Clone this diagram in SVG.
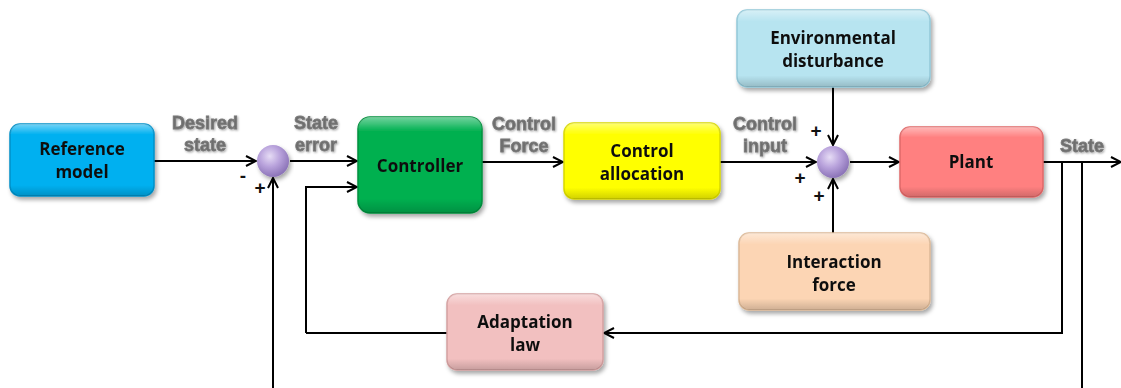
<svg xmlns="http://www.w3.org/2000/svg" width="1121" height="388" viewBox="0 0 1121 388">
<style>
.box{stroke-width:1.5}
.t{font-family:"Open Sans","Liberation Sans",sans-serif;font-weight:bold;font-size:17px;fill:#111;text-anchor:middle}
.lbl{font-family:"Liberation Sans",Arial,sans-serif;font-weight:bold;font-size:18px;fill:#6e6e6e;stroke:#7a7a7a;stroke-width:0.8;text-anchor:middle;filter:url(#soft)}
.sign{font-family:"Liberation Sans",Arial,sans-serif;font-weight:bold;font-size:19px;fill:#111;text-anchor:middle}
.ln{fill:none;stroke:#000;stroke-width:2}
.arr{marker-end:url(#ah)}
</style>
<defs>
<marker id="ah" viewBox="0 0 12 12" refX="11" refY="6" markerWidth="12" markerHeight="12" markerUnits="userSpaceOnUse" orient="auto">
<path d="M1,1 L11,6 L1,11" fill="none" stroke="#000" stroke-width="2"/>
</marker>
<filter id="sh" x="-10%" y="-10%" width="125%" height="130%">
<feDropShadow dx="2" dy="3" stdDeviation="2" flood-color="#000" flood-opacity="0.35"/>
</filter>
<filter id="soft" x="-10%" y="-20%" width="120%" height="150%">
<feGaussianBlur in="SourceAlpha" stdDeviation="1.2" result="b"/>
<feOffset in="b" dx="1" dy="1" result="o"/>
<feFlood flood-color="#000" flood-opacity="0.35"/>
<feComposite in2="o" operator="in" result="s"/>
<feGaussianBlur in="SourceGraphic" stdDeviation="0.35" result="g"/>
<feMerge><feMergeNode in="s"/><feMergeNode in="g"/></feMerge>
</filter>
<linearGradient id="gl" x1="0" y1="0" x2="0" y2="1">
<stop offset="0" stop-color="#fff" stop-opacity="0.45"/>
<stop offset="0.15" stop-color="#fff" stop-opacity="0"/>
<stop offset="0.85" stop-color="#000" stop-opacity="0"/>
<stop offset="1" stop-color="#000" stop-opacity="0.18"/>
</linearGradient>
<radialGradient id="sph" cx="0.4" cy="0.35" r="0.65">
<stop offset="0" stop-color="#e6dcf5"/>
<stop offset="0.5" stop-color="#b9a3dc"/>
<stop offset="1" stop-color="#8c74b8"/>
</radialGradient>
</defs>

<g id="connectors">
<line class="ln arr" x1="154" y1="161" x2="256" y2="161"/>
<line class="ln arr" x1="290" y1="161" x2="357" y2="161"/>
<polyline class="ln arr" points="306,333 306,187 357,187"/>
<line class="ln arr" x1="273" y1="388" x2="273" y2="178"/>
<line class="ln arr" x1="482" y1="162" x2="563" y2="162"/>
<line class="ln arr" x1="720" y1="162" x2="816" y2="162"/>
<line class="ln arr" x1="833" y1="87" x2="833" y2="145"/>
<line class="ln arr" x1="833" y1="233" x2="833" y2="179"/>
<line class="ln arr" x1="850" y1="162" x2="899" y2="162"/>
<line class="ln arr" x1="1043" y1="162" x2="1121" y2="162"/>
<polyline class="ln arr" points="1062,162 1062,333 604,333"/>
<line class="ln" x1="447" y1="333" x2="306" y2="333"/>
<line class="ln" x1="1082" y1="162" x2="1082" y2="388"/>
</g>

<g id="labels">
<text class="lbl" x="205" y="129">Desired</text>
<text class="lbl" x="205" y="151">state</text>
<text class="lbl" x="316" y="129">State</text>
<text class="lbl" x="316" y="151">error</text>
<text class="lbl" x="524" y="130">Control</text>
<text class="lbl" x="524" y="152">Force</text>
<text class="lbl" x="765" y="130">Control</text>
<text class="lbl" x="765" y="152">input</text>
<text class="lbl" x="1082" y="152">State</text>
<text class="sign" x="243" y="182">-</text>
<text class="sign" x="260" y="194">+</text>
<text class="sign" x="816" y="137">+</text>
<text class="sign" x="800" y="184">+</text>
<text class="sign" x="819" y="202">+</text>
</g>

<g id="sum1">
<circle cx="273" cy="161" r="16" fill="url(#sph)" filter="url(#sh)"/>
</g>
<g id="sum2">
<circle cx="833" cy="162" r="16" fill="url(#sph)" filter="url(#sh)"/>
</g>

<g id="reference-model" filter="url(#sh)">
<rect class="box" x="10" y="124" width="144" height="72" rx="10" fill="#00b0f0" stroke="#0090c8"/>
<rect x="10" y="124" width="144" height="72" rx="10" fill="url(#gl)"/>
<text class="t" x="82" y="155">Reference</text>
<text class="t" x="82" y="178">model</text>
</g>

<g id="controller" filter="url(#sh)">
<rect class="box" x="358" y="117" width="124" height="96" rx="12" fill="#00b050" stroke="#00903e"/>
<rect x="358" y="117" width="124" height="96" rx="12" fill="url(#gl)"/>
<text class="t" x="420" y="172">Controller</text>
</g>

<g id="control-allocation" filter="url(#sh)">
<rect class="box" x="564" y="123" width="156" height="76" rx="10" fill="#ffff00" stroke="#d8d800"/>
<rect x="564" y="123" width="156" height="76" rx="10" fill="url(#gl)"/>
<text class="t" x="642" y="157">Control</text>
<text class="t" x="642" y="180">allocation</text>
</g>

<g id="environmental-disturbance" filter="url(#sh)">
<rect class="box" x="737" y="10" width="193" height="77" rx="10" fill="#b7e4f0" stroke="#93c8d8"/>
<rect x="737" y="10" width="193" height="77" rx="10" fill="url(#gl)"/>
<text class="t" x="833" y="44">Environmental</text>
<text class="t" x="833" y="67">disturbance</text>
</g>

<g id="plant" filter="url(#sh)">
<rect class="box" x="900" y="127" width="143" height="70" rx="10" fill="#ff8080" stroke="#e06868"/>
<rect x="900" y="127" width="143" height="70" rx="10" fill="url(#gl)"/>
<text class="t" x="971" y="168">Plant</text>
</g>

<g id="interaction-force" filter="url(#sh)">
<rect class="box" x="739" y="233" width="191" height="77" rx="10" fill="#fcd5b4" stroke="#dcb896"/>
<rect x="739" y="233" width="191" height="77" rx="10" fill="url(#gl)"/>
<text class="t" x="834" y="268">Interaction</text>
<text class="t" x="834" y="291">force</text>
</g>

<g id="adaptation-law" filter="url(#sh)">
<rect class="box" x="447" y="294" width="156" height="76" rx="10" fill="#f2c0c0" stroke="#d4a0a0"/>
<rect x="447" y="294" width="156" height="76" rx="10" fill="url(#gl)"/>
<text class="t" x="525" y="328">Adaptation</text>
<text class="t" x="525" y="351">law</text>
</g>
</svg>
